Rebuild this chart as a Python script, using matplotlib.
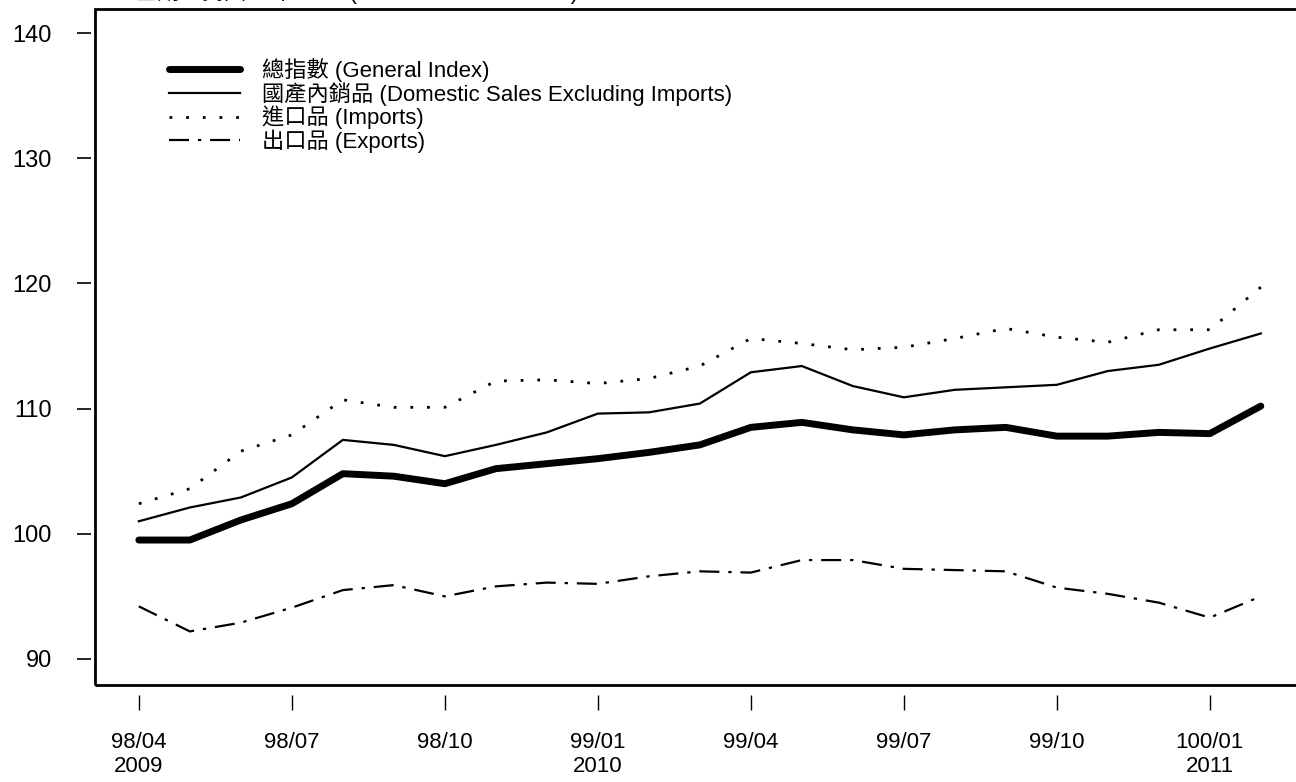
import numpy as np
import matplotlib.pyplot as plt
from matplotlib.patches import Rectangle

plt.rcParams['font.family'] = ['Liberation Sans', 'Noto Sans CJK TC', 'DejaVu Sans']

# months 98/04 .. 100/02 (ROC calendar)
months = ['98/04', '98/05', '98/06', '98/07', '98/08', '98/09', '98/10', '98/11', '98/12',
          '99/01', '99/02', '99/03', '99/04', '99/05', '99/06', '99/07', '99/08', '99/09',
          '99/10', '99/11', '99/12', '100/01', '100/02']

general = [99.5, 99.5, 101.1, 102.4, 104.8, 104.6, 104.0, 105.2, 105.6, 106.0, 106.5, 107.1,
           108.5, 108.9, 108.3, 107.9, 108.3, 108.5, 107.8, 107.8, 108.1, 108.0, 110.2]
domestic = [101.0, 102.1, 102.9, 104.5, 107.5, 107.1, 106.2, 107.1, 108.1, 109.6, 109.7, 110.4,
            112.9, 113.4, 111.8, 110.9, 111.5, 111.7, 111.9, 113.0, 113.5, 114.8, 116.0]
imports = [102.4, 103.6, 106.6, 107.9, 110.7, 110.1, 110.1, 112.2, 112.3, 112.0, 112.4, 113.4,
           115.6, 115.2, 114.7, 114.9, 115.6, 116.4, 115.7, 115.3, 116.3, 116.3, 119.7]
exports = [94.2, 92.2, 92.9, 94.1, 95.5, 95.9, 95.0, 95.8, 96.1, 96.0, 96.6, 97.0,
           96.9, 97.9, 97.9, 97.2, 97.1, 97.0, 95.7, 95.2, 94.5, 93.3, 95.0]

tick_idx = [0, 3, 6, 9, 12, 15, 18, 21]
tick_labels = ['98/04\n2009', '98/07', '98/10', '99/01\n2010', '99/04', '99/07', '99/10', '100/01\n2011']

labels = ['總指數 (General Index)',
          '國產內銷品 (Domestic Sales Excluding Imports)',
          '進口品 (Imports)',
          '出口品 (Exports)']

W, H = 1296, 782
fig = plt.figure(figsize=(W / 100, H / 100), dpi=100)
ax = fig.add_axes([95 / W, 97 / H, (W - 95) / W, 676 / H])

x = np.arange(len(months))
ax.plot(x, general, color='black', lw=5, solid_capstyle='round', label=labels[0])
ax.plot(x, domestic, color='black', lw=1.6, label=labels[1])
ax.plot(x, imports, color='black', lw=2, linestyle=(0, (1, 5)), label=labels[2])
ax.plot(x, exports, color='black', lw=1.6, linestyle=(0, (9, 4, 1.5, 4)), label=labels[3])

ax.set_xlim(-0.86, 22.69)
ax.set_ylim(87.92, 141.92)

ax.set_xticks(tick_idx)
ax.set_xticklabels(tick_labels, linespacing=0.95)
ax.set_yticks([90, 100, 110, 120, 130, 140])
ax.tick_params(axis='x', length=11, width=1, pad=16, labelsize=16, direction='out')
ax.tick_params(axis='y', length=10, width=1.2, pad=18, labelsize=17, direction='out')

for s in ax.spines.values():
    s.set_visible(False)
ax.spines['bottom'].set_position(('outward', 7))
ax.spines['left'].set_position(('outward', 3))

ax.add_patch(Rectangle((0, 0), 1.2, 1, transform=ax.transAxes, fill=False,
                       lw=2, edgecolor='black', clip_on=False))

ax.legend(loc='upper left', bbox_to_anchor=(160 / W, 1 - 49 / H),
          bbox_transform=fig.transFigure, frameon=False, fontsize=16,
          handlelength=3.2, handletextpad=1.0, labelspacing=0.0, borderaxespad=0)

fig.text(135 / W, 1 + 0.5 / H, '基期：民國95年=100 (Base Year: 2006=100)',
         fontsize=16, va='baseline', ha='left')

fig.savefig('out.png', dpi=100)
